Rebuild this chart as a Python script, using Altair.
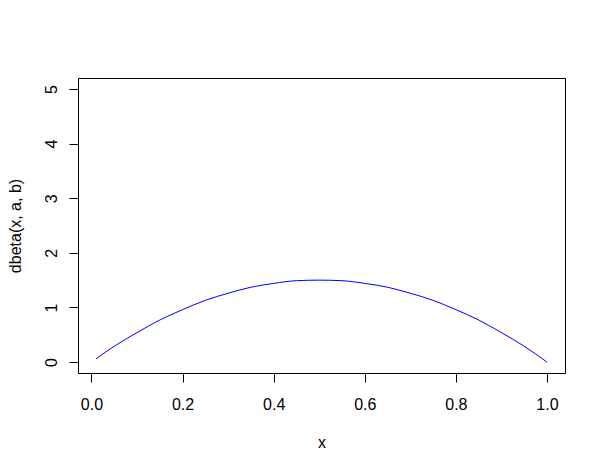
import altair as alt
import pandas as pd

# values (dbeta curve)
x_vals = [0.01, 0.05, 0.10, 0.15, 0.20, 0.25, 0.30, 0.35, 0.40, 0.45, 0.50,
          0.55, 0.60, 0.65, 0.70, 0.75, 0.80, 0.85, 0.90, 0.95, 1.00]
y_vals = [0.06, 0.29, 0.54, 0.77, 0.96, 1.13, 1.26, 1.37, 1.44, 1.49, 1.50,
          1.49, 1.44, 1.37, 1.26, 1.13, 0.96, 0.77, 0.54, 0.29, 0.00]
x_ticks = [0.0, 0.2, 0.4, 0.6, 0.8, 1.0]
y_ticks = [0, 1, 2, 3, 4, 5]

df = pd.DataFrame({"x": x_vals, "y": y_vals})

FONT = "Liberation Sans"
W, H = 487, 295

chart = alt.Chart(df).mark_line(color="blue", strokeWidth=1, interpolate="monotone").encode(
    x=alt.X("x:Q",
            scale=alt.Scale(domain=[-0.0296, 1.0396], nice=False, zero=False),
            axis=alt.Axis(values=x_ticks, format=".1f", title="x", grid=False, domain=False,
                          tickSize=9, tickColor="black", labelBaseline="alphabetic",
                          labelPadding=27, labelFont=FONT, labelFontSize=16, labelColor="black",
                          titleFont=FONT, titleFontSize=16, titleFontWeight="normal",
                          titleColor="black", titleBaseline="alphabetic", titleAlign="center",
                          titleX=W / 2, titleY=74, labelFlush=False, labelOverlap=False)),
    y=alt.Y("y:Q",
            scale=alt.Scale(domain=[-0.2, 5.2], nice=False, zero=False),
            axis=alt.Axis(values=y_ticks, format="d", title="dbeta(x, a, b)", grid=False,
                          domain=False, tickSize=9, tickColor="black", labelAngle=270,
                          labelAlign="center", labelBaseline="alphabetic", labelPadding=13,
                          labelFont=FONT, labelFontSize=16, labelColor="black",
                          titleFont=FONT, titleFontSize=16, titleFontWeight="normal",
                          titleColor="black", titleAngle=270, titleBaseline="alphabetic",
                          titleAlign="center", titleX=-58, titleY=H / 2,
                          labelFlush=False, labelOverlap=False)),
).properties(
    width=W, height=H,
    autosize=alt.AutoSizeParams(type="none"),
    padding={"left": 70, "top": 70, "right": 33, "bottom": 91},
    background="white",
).configure_view(stroke="black", strokeWidth=1)

chart.save("out.html", embed_options={"renderer": "svg", "actions": False})
